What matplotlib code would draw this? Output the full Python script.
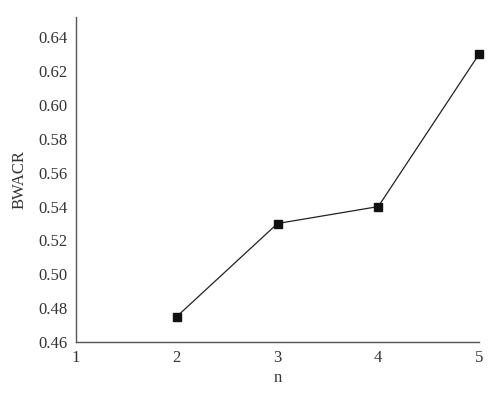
import matplotlib
matplotlib.use("Agg")
import matplotlib.pyplot as plt

n_values = [2, 3, 4, 5]
bwacr = [0.475, 0.53, 0.54, 0.63]
x_ticks = [1, 2, 3, 4, 5]
y_ticks = [0.46, 0.48, 0.50, 0.52, 0.54, 0.56, 0.58, 0.60, 0.62, 0.64]

plt.rcParams["font.family"] = ["Liberation Serif", "DejaVu Serif"]

fig = plt.figure(figsize=(5, 4), dpi=100)
ax = fig.add_axes([0.152, 0.145, 0.806, 0.8125])

ax.plot(n_values, bwacr, color="#222222", linewidth=0.9,
        marker="s", markersize=6, markerfacecolor="#111111", markeredgecolor="#111111",
        clip_on=False)

ax.set_xlim(1, 5)
ax.set_ylim(0.46, 0.652)
ax.set_xticks(x_ticks)
ax.set_yticks(y_ticks)
ax.set_yticklabels([f"{v:.2f}" for v in y_ticks])

ax.tick_params(axis="both", length=0, labelsize=12, colors="#333333", pad=6)
for side in ["top", "right"]:
    ax.spines[side].set_visible(False)
for side in ["left", "bottom"]:
    ax.spines[side].set_color("#555555")
    ax.spines[side].set_linewidth(1.0)

ax.set_xlabel("n", fontsize=12, color="#333333", labelpad=3)
ax.set_ylabel("BWACR", fontsize=12, color="#333333", labelpad=8)

fig.savefig("out.png", dpi=100)
